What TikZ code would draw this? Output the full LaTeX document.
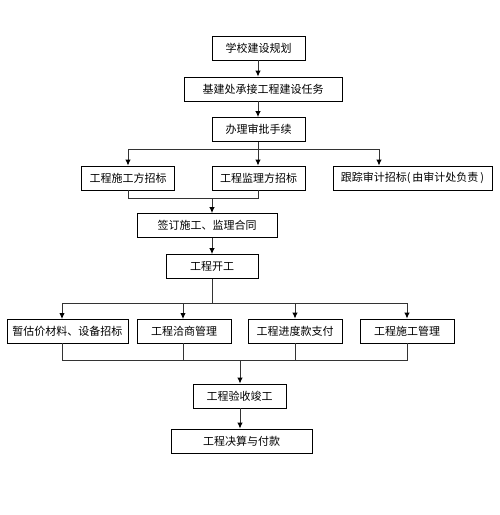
\documentclass[tikz,border=0pt]{standalone}
\usepackage{fontspec}
\newfontfamily\cjk{Noto Sans CJK SC}
\usetikzlibrary{arrows.meta}
\tikzset{
  box/.style={draw,line width=0.9pt,minimum height=24pt,inner sep=0pt,font=\cjk\fontsize{11}{11}\selectfont},
  link/.style={line width=0.9pt,black!80},
  flow/.style={link,-{Latex[length=6pt,width=5.5pt,black]}}
}
\begin{document}
\begin{tikzpicture}[x=1pt,y=-1pt]
  \useasboundingbox (0,0) rectangle (500,515);
 % boxes
  \node[box,minimum width=93pt] (plan) at (258.5,48) {学校建设规划};
  \node[box,minimum width=158pt] (task) at (263,89) {基建处承接工程建设任务};
  \node[box,minimum width=93pt] (approve) at (258.5,129.5) {办理审批手续};
  \node[box,minimum width=93pt] (build) at (128,178) {工程施工方招标};
  \node[box,minimum width=93pt] (supervise) at (258.5,178) {工程监理方招标};
  \node[box,minimum width=159pt] (audit) at (412.5,178) {跟踪审计招标(\,由审计处负责\,)};
  \node[box,minimum width=140pt] (contract) at (207,225.5) {签订施工、监理合同};
  \node[box,minimum width=92pt] (start) at (212,266.5) {工程开工};
  \node[box,minimum width=121pt] (tender) at (67.5,331) {暂估价材料、设备招标};
  \node[box,minimum width=94pt] (change) at (184,331) {工程洽商管理};
  \node[box,minimum width=94pt] (pay) at (295,331) {工程进度款支付};
  \node[box,minimum width=94pt] (manage) at (407,331) {工程施工管理};
  \node[box,minimum width=93pt] (accept) at (239.5,396) {工程验收竣工};
  \node[box,minimum width=141pt] (final) at (241.5,441) {工程决算与付款};
 % bus points
  \coordinate (busA) at (258,149);
  \coordinate (busAl) at (128,149);
  \coordinate (busAr) at (379,149);
  \coordinate (busB) at (212,198);
  \coordinate (busC) at (212,303);
  \coordinate (busD) at (240,360);
 % connectors
  \draw[flow] (plan.south -| 258,0) -- (task.north -| 258,0);
  \draw[flow] (task.south -| 258,0) -- (approve.north -| 258,0);
  \draw[link] (approve.south -| busA) -- (busA);
  \draw[link] (busAl) -- (busAr);
  \draw[flow] (busAl) -- (build.north);
  \draw[flow] (busA) -- (busA |- supervise.north);
  \draw[flow] (busAr) -- (busAr |- audit.north);
  \draw[link] (build.south) |- (busB);
  \draw[link] (supervise.south -| busA) |- (busB);
  \draw[flow] (busB) -- (busB |- contract.north);
  \draw[flow] (busB |- contract.south) -- (start.north);
  \draw[link] (start.south) -- (busC);
  \draw[link] (busC -| 62,0) -- (busC -| 407,0);
  \draw[flow] (busC -| 62,0) -- (62,319);
  \draw[flow] (busC -| 183,0) -- (183,319);
  \draw[flow] (busC -| 295,0) -- (pay.north);
  \draw[flow] (busC -| 407,0) -- (manage.north);
  \draw[link] (62,343) -- (busD -| 62,0) -- (busD -| 407,0) -- (manage.south);
  \draw[link] (183,343) -- (busD -| 183,0);
  \draw[link] (pay.south) -- (busD -| 295,0);
  \draw[flow] (busD) -- (busD |- accept.north);
  \draw[flow] (busD |- accept.south) -- (busD |- final.north);
\end{tikzpicture}
\end{document}
